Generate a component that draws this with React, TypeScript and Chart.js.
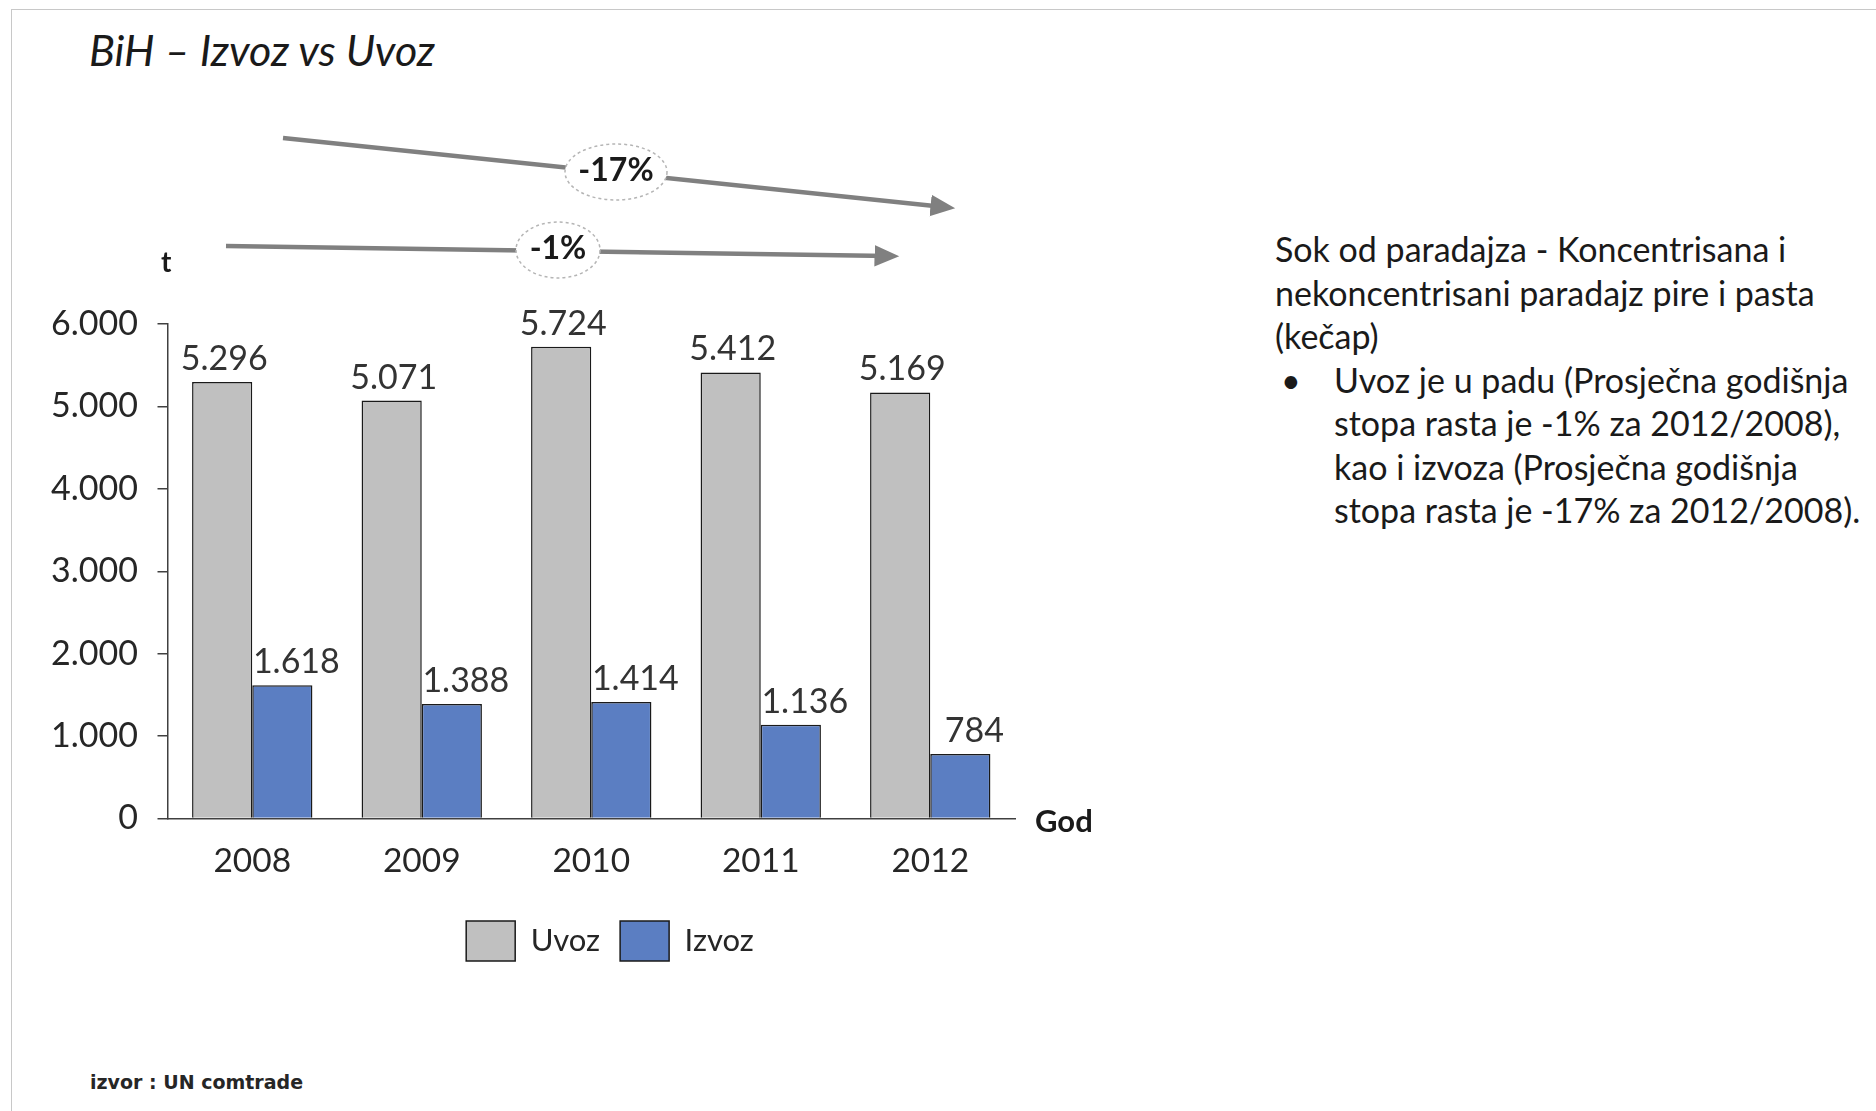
import React, { useEffect, useRef } from "react";
import { Chart, registerables } from "chart.js";
Chart.register(...registerables);

const years = ["2008", "2009", "2010", "2011", "2012"];
const uvozValues = [5296, 5071, 5724, 5412, 5169];
const izvozValues = [1618, 1388, 1414, 1136, 784];
const yTickValues = [0, 1000, 2000, 3000, 4000, 5000, 6000];
const seriesNames = ["Uvoz", "Izvoz"];
const titleText = "BiH – Izvoz vs Uvoz";
const uvozGrowth = "-1%";
const izvozGrowth = "-17%";
const sideHeading = ["Sok od paradajza - Koncentrisana i", "nekoncentrisani paradajz pire i pasta", "(kečap)"];
const sideBullet = [
  "Uvoz je u padu (Prosječna godišnja",
  "stopa rasta je -1% za 2012/2008),",
  "kao i izvoza (Prosječna godišnja",
  "stopa rasta je -17% za 2012/2008).",
];
const sourceText = "izvor : UN comtrade";

const fmt = (v: number) => String(v).replace(/\B(?=(\d{3})+(?!\d))/g, ".");

const FONT = "Lato, 'Open Sans', sans-serif";

const valueLabels = {
  id: "valueLabels",
  afterDatasetsDraw(chart: any) {
    const ctx = chart.ctx;
    ctx.save();
    ctx.font = `34px ${FONT}`;
    ctx.fillStyle = "#333333";
    ctx.textAlign = "center";
    ctx.textBaseline = "middle";
    chart.data.datasets.forEach((ds: any, di: number) => {
      const meta = chart.getDatasetMeta(di);
      meta.data.forEach((el: any, i: number) => {
        const dx = di === 1 ? 14 : 2;
        ctx.fillText(fmt(ds.data[i]), el.x + dx, el.y - 23);
      });
    });
    ctx.restore();
  },
};

export default function App() {
  const ref = useRef<HTMLCanvasElement>(null);
  useEffect(() => {
    if (!ref.current) return;
    const chart = new Chart(ref.current, {
      type: "bar",
      data: {
        labels: years,
        datasets: [
          {
            label: seriesNames[0],
            data: uvozValues,
            backgroundColor: "#c0c0c0",
            borderColor: "#1a1a1a",
            borderWidth: 1.5,
            yAxisID: "y",
          },
          {
            label: seriesNames[1],
            data: izvozValues,
            backgroundColor: "#5b7ec2",
            borderColor: "#1a1a1a",
            borderWidth: 1.5,
            yAxisID: "y",
          },
        ],
      },
      options: {
        responsive: false,
        animation: false,
        devicePixelRatio: 1,
        layout: { padding: { left: 0, right: 0, top: 44, bottom: 0 } },
        datasets: { bar: { categoryPercentage: 0.71, barPercentage: 1.0 } },
        plugins: {
          tooltip: { enabled: false },
          title: { display: false },
          legend: {
            position: "bottom",
            labels: {
              boxWidth: 49,
              boxHeight: 40,
              padding: 20,
              color: "#262626",
              font: { family: FONT, size: 31 },
            },
          },
        },
        scales: {
          x: {
            grid: { display: true, drawOnChartArea: false, drawTicks: false },
            border: { display: true, color: "#404040", width: 1.5 },
            ticks: { color: "#262626", font: { family: FONT, size: 33.5 }, padding: 23 },
            afterFit: (s: any) => {
              s.height = 82.5;
            },
          },
          y: {
            min: 0,
            max: 6000,
            afterBuildTicks: (s: any) => {
              s.ticks = yTickValues.map((v) => ({ value: v }));
            },
            ticks: {
              color: "#262626",
              font: { family: FONT, size: 34 },
              padding: 19.5,
              callback: (v: any) => fmt(Number(v)),
            },
            grid: { drawOnChartArea: false, drawTicks: true, tickLength: 10, color: "#404040", lineWidth: 1.5 },
            border: { display: true, color: "#404040", width: 1.5 },
            afterFit: (s: any) => {
              s.width = 167.5;
            },
          },
          yR: {
            position: "right",
            display: true,
            ticks: { display: false },
            grid: { display: false },
            border: { display: false },
            afterFit: (s: any) => {
              s.width = 205;
            },
          },
        },
      },
      plugins: [valueLabels],
    } as any);
    return () => chart.destroy();
  }, []);

  const ellipseText: React.CSSProperties = {
    fontFamily: FONT,
    fontWeight: 700,
    fontSize: 32,
    fill: "#1a1a1a",
  };

  return (
    <div style={{ position: "absolute", left: 0, top: 0, width: 1876, height: 1111, background: "#fff", overflow: "hidden" }}>
      <div style={{ position: "absolute", left: 11, top: 9, width: 1876, height: 1111, borderTop: "1.5px solid #c8c8c8", borderLeft: "1.5px solid #c8c8c8" }} />
      <div style={{ position: "absolute", left: 89, top: 24, fontFamily: FONT, fontStyle: "italic", fontSize: 43, lineHeight: "52px", color: "#1a1a1a", whiteSpace: "nowrap" }}>
        {titleText}
      </div>
      <canvas ref={ref} width={1220} height={691} style={{ position: "absolute", left: 0, top: 280, width: 1220, height: 691 }} />
      <svg width={1100} height={320} style={{ position: "absolute", left: 0, top: 0 }}>
        <defs>
          <marker id="ah" markerWidth="6" markerHeight="6" refX="3" refY="3" orient="auto" markerUnits="strokeWidth">
            <path d="M0,0.6 L5.5,3 L0,5.4 Z" fill="#808080" />
          </marker>
        </defs>
        <line x1={283} y1={138} x2={944} y2={207} stroke="#808080" strokeWidth={4.5} markerEnd="url(#ah)" />
        <line x1={226} y1={246} x2={888} y2={256} stroke="#808080" strokeWidth={4.5} markerEnd="url(#ah)" />
        <ellipse cx={616} cy={172} rx={51} ry={28} fill="#fff" stroke="#b5b5b5" strokeWidth={1.5} strokeDasharray="3 3" />
        <text x={616} y={173} textAnchor="middle" dominantBaseline="middle" style={ellipseText}>{izvozGrowth}</text>
        <ellipse cx={558} cy={250} rx={42} ry={28} fill="#fff" stroke="#b5b5b5" strokeWidth={1.5} strokeDasharray="3 3" />
        <text x={558} y={251} textAnchor="middle" dominantBaseline="middle" style={ellipseText}>{uvozGrowth}</text>
      </svg>
      <div style={{ position: "absolute", left: 161, top: 244, fontFamily: FONT, fontWeight: 700, fontSize: 28, lineHeight: "34px", color: "#1a1a1a" }}>t</div>
      <div style={{ position: "absolute", left: 1035, top: 801, fontFamily: FONT, fontWeight: 700, fontSize: 31, lineHeight: "38px", color: "#1a1a1a" }}>God</div>
      <div style={{ position: "absolute", left: 1275, top: 227, fontFamily: FONT, fontSize: 34, lineHeight: "43.5px", color: "#1a1a1a", whiteSpace: "nowrap" }}>
        {sideHeading.map((l, i) => (
          <div key={i}>{l}</div>
        ))}
        <div style={{ position: "relative" }}>
          <span style={{ position: "absolute", left: 6, top: 0 }}>•</span>
          <div style={{ marginLeft: 59 }}>
            {sideBullet.map((l, i) => (
              <div key={i}>{l}</div>
            ))}
          </div>
        </div>
      </div>
      <div style={{ position: "absolute", left: 90, top: 1071, fontFamily: "'DejaVu Sans', sans-serif", fontWeight: 700, fontSize: 19, lineHeight: "22px", color: "#262626", whiteSpace: "nowrap" }}>
        {sourceText}
      </div>
    </div>
  );
}
